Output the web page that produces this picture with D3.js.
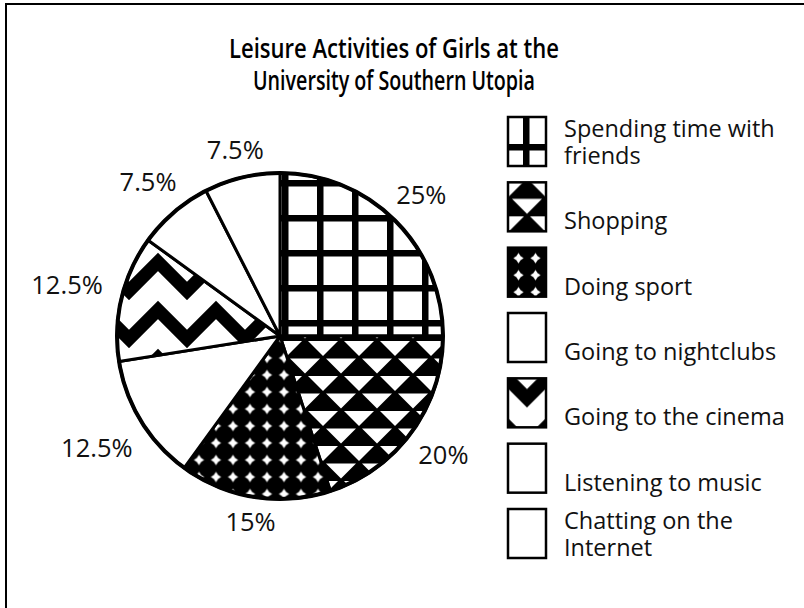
<!DOCTYPE html>
<html><head><meta charset="utf-8">
<script src="https://cdn.jsdelivr.net/npm/d3@7"></script>
<style>html,body{margin:0;padding:0;background:#fff;} svg{display:block;}</style>
</head><body>
<svg id="chart" width="804" height="608"></svg>
<script>
const titleLines = ["Leisure Activities of Girls at the", "University of Southern Utopia"];
const categories = ["Spending time with friends","Shopping","Doing sport","Going to nightclubs","Going to the cinema","Listening to music","Chatting on the Internet"];
const legendLines = [["Spending time with","friends"],["Shopping"],["Doing sport"],["Going to nightclubs"],["Going to the cinema"],["Listening to music"],["Chatting on the","Internet"]];
const values = [25, 20, 15, 12.5, 12.5, 7.5, 7.5];
const valueLabels = ["25%","20%","15%","12.5%","12.5%","7.5%","7.5%"];
const fillKinds = ["grid","triangles","stars","plain","zigzag","plain","plain"];

const svg = d3.select("#chart");
const defs = svg.append("defs");
const FONT = "'Open Sans', 'Noto Sans', sans-serif";

// pattern painters
const painters = {
  grid: { w: 35, h: 35, draw: p => {
    p.append("rect").attr("width",35).attr("height",35).attr("fill","#fff");
    p.append("rect").attr("x",0).attr("y",0).attr("width",6.5).attr("height",35).attr("fill","#000");
    p.append("rect").attr("x",0).attr("y",0).attr("width",35).attr("height",6.5).attr("fill","#000");
  }},
  triangles: { w: 36, h: 35, draw: p => {
    p.append("rect").attr("width",36).attr("height",35).attr("fill","#000");
    const tris = [
      [[3,1],[33,1],[18,16]],
      [[-15,18.5],[15,18.5],[0,33.5]],
      [[21,18.5],[51,18.5],[36,33.5]]
    ];
    tris.forEach(t => p.append("polygon").attr("points", t.map(q=>q.join(",")).join(" ")).attr("fill","#fff"));
  }},
  stars: { w: 17, h: 17, draw: p => {
    p.append("rect").attr("width",17).attr("height",17).attr("fill","#000");
    const c = 8.5, R = 5.2, r = 3;
    const pts = [];
    for (let i = 0; i < 8; i++) {
      const a = i * Math.PI / 4;
      const rad = i % 2 === 0 ? R : r;
      pts.push([c + rad*Math.sin(a), c - rad*Math.cos(a)]);
    }
    p.append("polygon").attr("points", pts.map(q=>q.join(",")).join(" ")).attr("fill","#fff");
  }},
  zigzag: { w: 58, h: 48, draw: p => {
    p.append("rect").attr("width",58).attr("height",48).attr("fill","#fff");
    const W = 58, pk = 10, tr = 39;
    [-48, 0, 48].forEach(dy => {
      p.append("path")
        .attr("d", `M${-W/2},${pk+dy} L0,${tr+dy} L${W/2},${pk+dy} L${W},${tr+dy} L${1.5*W},${pk+dy}`)
        .attr("fill","none").attr("stroke","#000").attr("stroke-width",13).attr("stroke-linejoin","miter");
    });
  }}
};

function makePattern(id, kind, ox, oy) {
  const def = painters[kind];
  const p = defs.append("pattern").attr("id", id)
    .attr("patternUnits","userSpaceOnUse")
    .attr("x", ox).attr("y", oy)
    .attr("width", def.w).attr("height", def.h);
  def.draw(p);
}
// pie patterns (pie group coordinates: origin at pie centre)
makePattern("pie-grid", "grid", 2, 19);
makePattern("pie-triangles", "triangles", 25, 4);
makePattern("pie-stars", "stars", 12.5, 13.5);
makePattern("pie-zigzag", "zigzag", 23, 12);
// legend patterns (swatch-local coordinates)
makePattern("leg-grid", "grid", 15, 27);
makePattern("leg-triangles", "triangles", 19, -2);
makePattern("leg-stars", "stars", 2, 2);
makePattern("leg-zigzag", "zigzag", 19, -19);

const fillFor = (prefix, kind) => kind === "plain" ? "#fff" : `url(#${prefix}-${kind})`;

// frame (extends beyond the page on the right and bottom)
svg.append("rect").attr("x",6).attr("y",4).attr("width",900).attr("height",700)
  .attr("fill","none").attr("stroke","#000").attr("stroke-width",2);

// title
svg.append("text")
  .attr("font-family", FONT).attr("font-weight",600).attr("font-size",27)
  .attr("fill","#000")
  .selectAll("tspan").data(titleLines).join("tspan")
  .attr("x", (d,i) => i === 0 ? 229 : 253)
  .attr("y", (d,i) => 58 + i*32)
  .attr("textLength", (d,i) => i === 0 ? 330 : 282)
  .attr("lengthAdjust","spacingAndGlyphs")
  .text(d => d);

// pie
const cx = 280, cy = 336, R = 163;
const data = values.map((v,i) => ({value: v, label: valueLabels[i], kind: fillKinds[i], name: categories[i]}));
const pie = d3.pie().sort(null).value(d => d.value).startAngle(0).endAngle(2*Math.PI);
const arcs = pie(data);
const arc = d3.arc().innerRadius(0).outerRadius(R);
const g = svg.append("g").attr("transform", `translate(${cx},${cy})`);
g.selectAll("path.slice").data(arcs).join("path")
  .attr("class","slice")
  .attr("d", arc)
  .attr("fill", d => fillFor("pie", d.data.kind))
  .attr("stroke","#000").attr("stroke-width",3).attr("stroke-linejoin","round");
g.append("circle").attr("r", R).attr("fill","none").attr("stroke","#000").attr("stroke-width",4);

// value labels
g.selectAll("text.val").data(arcs).join("text")
  .attr("class","val")
  .each(function(d) {
    const a = (d.startAngle + d.endAngle) / 2;
    const txt = d.data.label;
    const halfW = txt.length * 7;
    const rr = R + 22 + halfW * Math.abs(Math.sin(a));
    d3.select(this)
      .attr("x", rr * Math.sin(a))
      .attr("y", -rr * Math.cos(a))
      .attr("dy","0.36em");
  })
  .attr("text-anchor","middle")
  .attr("font-family", FONT).attr("font-size",25.5).attr("fill","#111")
  .text(d => d.data.label);

// legend
const ly = d3.scaleLinear().domain([0, categories.length-1]).range([117, 509]);
const sw = 38, sh = 49;
const leg = svg.append("g").selectAll("g").data(data).join("g")
  .attr("transform", (d,i) => `translate(508,${ly(i)})`);
leg.append("rect").attr("width", sw).attr("height", sh)
  .attr("fill", d => fillFor("leg", d.kind))
  .attr("stroke","#000").attr("stroke-width",2.5);
leg.each(function(d,i) {
  const lines = legendLines[i];
  const n = lines.length;
  d3.select(this).append("text")
    .attr("font-family", FONT).attr("font-size",23.5).attr("fill","#111")
    .selectAll("tspan").data(lines).join("tspan")
    .attr("x", 56)
    .attr("y", (t,j) => 47 - (n-1-j)*27)
    .text(t => t);
});
</script>
</body></html>
